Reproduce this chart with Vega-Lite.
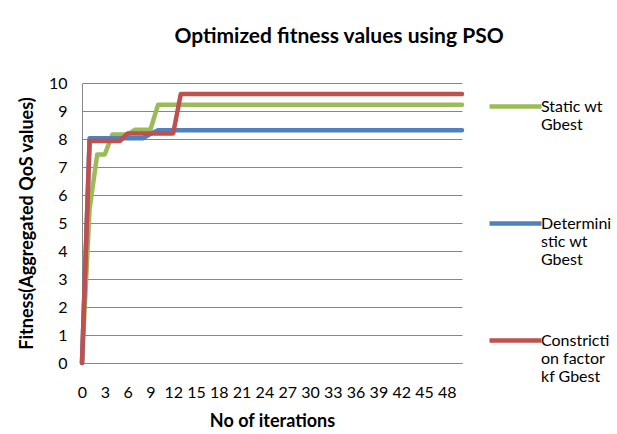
{
  "$schema": "https://vega.github.io/schema/vega-lite/v6.json",
  "autosize": "none",
  "width": 380,
  "height": 280,
  "padding": {"left": 82, "top": 83, "right": 155, "bottom": 71},
  "background": "white",
  "title": {
    "text": "Optimized fitness values using PSO",
    "font": "Lato", "fontSize": 21, "fontWeight": "bold", "color": "black",
    "anchor": "middle", "frame": "group", "dx": 67, "offset": 11, "baseline": "alphabetic"
  },
  "config": {
    "view": {"stroke": null},
    "font": "Lato"
  },
  "data": {
    "values": [
      {"it": 0, "S": 0, "D": 0, "C": 0},
      {"it": 1, "S": 5.5, "D": 8.03, "C": 7.93},
      {"it": 2, "S": 7.45, "D": 8.03, "C": 7.93},
      {"it": 3, "S": 7.45, "D": 8.03, "C": 7.93},
      {"it": 4, "S": 8.16, "D": 8.03, "C": 7.93},
      {"it": 5, "S": 8.16, "D": 8.03, "C": 7.93},
      {"it": 6, "S": 8.16, "D": 8.03, "C": 8.2},
      {"it": 7, "S": 8.33, "D": 8.03, "C": 8.2},
      {"it": 8, "S": 8.33, "D": 8.03, "C": 8.2},
      {"it": 9, "S": 8.33, "D": 8.18, "C": 8.2},
      {"it": 10, "S": 9.22, "D": 8.31, "C": 8.2},
      {"it": 11, "S": 9.22, "D": 8.31, "C": 8.2},
      {"it": 12, "S": 9.22, "D": 8.31, "C": 8.2},
      {"it": 13, "S": 9.22, "D": 8.31, "C": 9.61},
      {"it": 14, "S": 9.22, "D": 8.31, "C": 9.61},
      {"it": 15, "S": 9.22, "D": 8.31, "C": 9.61},
      {"it": 16, "S": 9.22, "D": 8.31, "C": 9.61},
      {"it": 17, "S": 9.22, "D": 8.31, "C": 9.61},
      {"it": 18, "S": 9.22, "D": 8.31, "C": 9.61},
      {"it": 19, "S": 9.22, "D": 8.31, "C": 9.61},
      {"it": 20, "S": 9.22, "D": 8.31, "C": 9.61},
      {"it": 21, "S": 9.22, "D": 8.31, "C": 9.61},
      {"it": 22, "S": 9.22, "D": 8.31, "C": 9.61},
      {"it": 23, "S": 9.22, "D": 8.31, "C": 9.61},
      {"it": 24, "S": 9.22, "D": 8.31, "C": 9.61},
      {"it": 25, "S": 9.22, "D": 8.31, "C": 9.61},
      {"it": 26, "S": 9.22, "D": 8.31, "C": 9.61},
      {"it": 27, "S": 9.22, "D": 8.31, "C": 9.61},
      {"it": 28, "S": 9.22, "D": 8.31, "C": 9.61},
      {"it": 29, "S": 9.22, "D": 8.31, "C": 9.61},
      {"it": 30, "S": 9.22, "D": 8.31, "C": 9.61},
      {"it": 31, "S": 9.22, "D": 8.31, "C": 9.61},
      {"it": 32, "S": 9.22, "D": 8.31, "C": 9.61},
      {"it": 33, "S": 9.22, "D": 8.31, "C": 9.61},
      {"it": 34, "S": 9.22, "D": 8.31, "C": 9.61},
      {"it": 35, "S": 9.22, "D": 8.31, "C": 9.61},
      {"it": 36, "S": 9.22, "D": 8.31, "C": 9.61},
      {"it": 37, "S": 9.22, "D": 8.31, "C": 9.61},
      {"it": 38, "S": 9.22, "D": 8.31, "C": 9.61},
      {"it": 39, "S": 9.22, "D": 8.31, "C": 9.61},
      {"it": 40, "S": 9.22, "D": 8.31, "C": 9.61},
      {"it": 41, "S": 9.22, "D": 8.31, "C": 9.61},
      {"it": 42, "S": 9.22, "D": 8.31, "C": 9.61},
      {"it": 43, "S": 9.22, "D": 8.31, "C": 9.61},
      {"it": 44, "S": 9.22, "D": 8.31, "C": 9.61},
      {"it": 45, "S": 9.22, "D": 8.31, "C": 9.61},
      {"it": 46, "S": 9.22, "D": 8.31, "C": 9.61},
      {"it": 47, "S": 9.22, "D": 8.31, "C": 9.61},
      {"it": 48, "S": 9.22, "D": 8.31, "C": 9.61},
      {"it": 49, "S": 9.22, "D": 8.31, "C": 9.61},
      {"it": 50, "S": 9.22, "D": 8.31, "C": 9.61}
    ]
  },
  "transform": [
    {"fold": ["S", "D", "C"], "as": ["series", "value"]}
  ],
  "mark": {"type": "line", "strokeWidth": 4.5, "strokeCap": "round", "strokeJoin": "round"},
  "encoding": {
    "x": {
      "field": "it", "type": "quantitative",
      "scale": {"domain": [0, 50], "nice": false, "zero": false},
      "axis": {
        "title": "No of iterations",
        "values": [0, 3, 6, 9, 12, 15, 18, 21, 24, 27, 30, 33, 36, 39, 42, 45, 48],
        "grid": false, "ticks": false,
        "domain": true, "domainColor": "#868686", "domainWidth": 1,
        "labelFont": "Lato", "labelFontSize": 16, "labelColor": "black",
        "labelPadding": 21, "labelFlush": false, "labelOverlap": false,
        "titleFont": "Lato", "titleFontSize": 18, "titleFontWeight": "bold", "titleColor": "black",
        "titlePadding": 12
      }
    },
    "y": {
      "field": "value", "type": "quantitative",
      "scale": {"domain": [0, 10], "nice": false},
      "axis": {
        "title": "Fitness(Aggregated QoS values)",
        "values": [0, 1, 2, 3, 4, 5, 6, 7, 8, 9, 10],
        "grid": true, "gridColor": "#868686", "gridWidth": 1,
        "ticks": false,
        "domain": true, "domainColor": "#868686", "domainWidth": 1,
        "labelFont": "Lato", "labelFontSize": 16, "labelColor": "black",
        "labelPadding": 15,
        "titleFont": "Lato", "titleFontSize": 18, "titleFontWeight": "bold", "titleColor": "black",
        "titlePadding": 12
      }
    },
    "color": {
      "field": "series", "type": "nominal",
      "scale": {"domain": ["S", "D", "C"], "range": ["#9BBB59", "#4F81BD", "#C0504D"]},
      "legend": {
        "title": null,
        "orient": "none",
        "legendX": 405,
        "legendY": -5,
        "symbolType": "stroke",
        "symbolSize": 2704,
        "symbolStrokeWidth": 4.5,
        "labelFont": "Lato", "labelFontSize": 16, "labelColor": "black",
        "labelLineHeight": 20,
        "labelOffset": -3,
        "rowPadding": 44,
        "labelExpr": "datum.value == 'S' ? ['Static wt', 'Gbest', ' '] : datum.value == 'D' ? ['Determini', 'stic wt', 'Gbest'] : ['Constricti', 'on factor', 'kf Gbest']"
      }
    },
    "order": {"field": "it", "type": "quantitative"}
  }
}
